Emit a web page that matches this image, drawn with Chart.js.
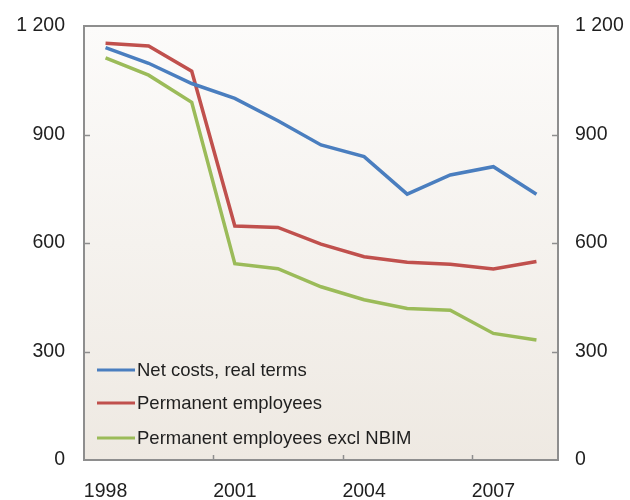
<!DOCTYPE html>
<html>
<head>
<meta charset="utf-8">
<script src="https://cdn.jsdelivr.net/npm/chart.js@4"></script>
<style>
    html, body { margin: 0; padding: 0; background: #fff; }
    #wrap { width: 630px; height: 500px; }
</style>
</head>
<body>
<div id="wrap"><canvas id="chart"></canvas></div>
<script>
const years = ['1998', '1999', '2000', '2001', '2002', '2003', '2004', '2005', '2006', '2007', '2008'];
const netCosts = [1140, 1097, 1041, 1000, 938, 871, 839, 735, 788, 811, 735];
const permanent = [1152, 1145, 1075, 647, 643, 597, 562, 547, 541, 528, 549];
const permanentExclNbim = [1112, 1064, 989, 543, 529, 479, 443, 419, 414, 350, 332];
const yTicks = [0, 300, 600, 900, 1200];

const FONT = '"Liberation Sans", Arial, sans-serif';
const TEXT = '#1f1f1f';

const fmt = v => String(v).replace(/\B(?=(\d{3})+(?!\d))/g, ' ');

// plot background, frame, inner tick marks and the in-plot legend
const frame = {
    id: 'frame',
    beforeDatasetsDraw(chart) {
        const { ctx, chartArea: a } = chart;
        const g = ctx.createLinearGradient(0, a.top, 0, a.bottom);
        g.addColorStop(0, '#fcfbfa');
        g.addColorStop(1, '#eee9e2');
        ctx.save();
        ctx.fillStyle = g;
        ctx.fillRect(a.left, a.top, a.right - a.left, a.bottom - a.top);
        ctx.restore();
    },
    afterDraw(chart) {
        const { ctx, chartArea: a, scales } = chart;
        ctx.save();
        ctx.strokeStyle = '#8e8e8e';
        ctx.lineWidth = 2;
        ctx.strokeRect(a.left, a.top, a.right - a.left, a.bottom - a.top);

        ctx.lineWidth = 1.5;
        ctx.beginPath();
        yTicks.slice(1, -1).forEach(v => {
            const y = Math.round(scales.y.getPixelForValue(v)) + 0.5;
            ctx.moveTo(a.left, y); ctx.lineTo(a.left + 6, y);
            ctx.moveTo(a.right, y); ctx.lineTo(a.right - 6, y);
        });
        const half = (scales.x.getPixelForValue(1) - scales.x.getPixelForValue(0)) / 2;
        years.forEach((yr, i) => {
            if (i === 0 || i % 3) return;
            const x = Math.round(scales.x.getPixelForValue(i) - half) + 0.5;
            ctx.moveTo(x, a.bottom); ctx.lineTo(x, a.bottom - 5);
        });
        ctx.stroke();

        ctx.font = '18.5px ' + FONT;
        ctx.textBaseline = 'middle';
        ctx.fillStyle = TEXT;
        const rows = [90, 57, 22];
        chart.data.datasets.forEach((ds, i) => {
            const y = a.bottom - rows[i];
            ctx.strokeStyle = ds.borderColor;
            ctx.lineWidth = 3;
            ctx.beginPath();
            ctx.moveTo(a.left + 13, y);
            ctx.lineTo(a.left + 51, y);
            ctx.stroke();
            ctx.fillText(ds.label, a.left + 53, y + 1);
        });
        ctx.restore();
    }
};

const yAxis = (position, width, padding) => ({
    type: 'linear',
    position,
    min: 0,
    max: 1200,
    afterBuildTicks: scale => { scale.ticks = yTicks.map(v => ({ value: v })); },
    afterFit: scale => {
        scale.width = width;
        scale.paddingTop = 0;
        scale.paddingBottom = 0;
    },
    grid: { display: false, drawTicks: false },
    border: { display: false },
    ticks: {
        padding,
        color: TEXT,
        font: { family: FONT, size: 19.5 },
        callback: v => fmt(v)
    }
});

const line = (label, data, color) => ({
    label,
    data,
    borderColor: color,
    backgroundColor: color,
    borderWidth: 3.5,
    pointRadius: 0,
    tension: 0,
    yAxisID: 'y'
});

new Chart(document.getElementById('chart'), {
    type: 'line',
    data: {
        labels: years,
        datasets: [
            line('Net costs, real terms', netCosts, '#4a7ebf'),
            line('Permanent employees', permanent, '#c0504d'),
            line('Permanent employees excl NBIM', permanentExclNbim, '#9bbb59')
        ]
    },
    options: {
        responsive: true,
        maintainAspectRatio: false,
        animation: false,
        layout: { padding: { top: 26, left: 0, right: 0, bottom: 0 } },
        plugins: { legend: { display: false }, tooltip: { enabled: false } },
        scales: {
            x: {
                type: 'category',
                offset: true,
                afterFit: scale => {
                    scale.height = 40;
                    scale.paddingLeft = 0;
                    scale.paddingRight = 0;
                },
                grid: { display: false, drawTicks: false },
                border: { display: false },
                ticks: {
                    autoSkip: false,
                    maxRotation: 0,
                    padding: 20,
                    color: TEXT,
                    font: { family: FONT, size: 19.5 },
                    callback: (v, i) => (i % 3 === 0 ? years[i] : '')
                }
            },
            y: yAxis('left', 84, 19),
            y2: yAxis('right', 72, 17)
        }
    },
    plugins: [frame]
});
</script>
</body>
</html>
